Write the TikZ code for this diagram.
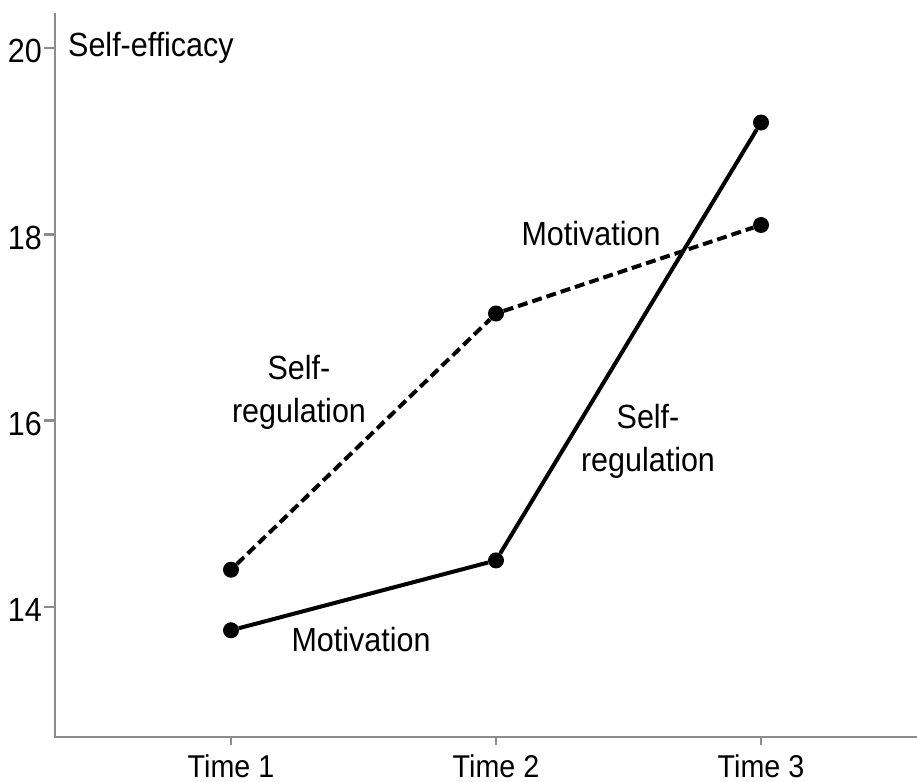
\documentclass[tikz,border=0pt]{standalone}
\usepackage{fontspec}
\setmainfont{Liberation Sans}
\newfontfamily\plotfont[FakeStretch=0.91]{Liberation Sans}

\begin{document}
\begin{tikzpicture}[
  x=265pt, y=93.17pt,
  axis/.style={draw=black!45, line width=2.5pt},
  dot/.style={circle, fill=black, inner sep=0pt, minimum size=16pt},
  solidline/.style={line width=4pt},
  dashline/.style={line width=4pt, dash pattern=on 10pt off 5pt},
  lbl/.style={font=\plotfont\fontsize{33.5}{43}\selectfont, align=center, inner sep=0pt},
  ticklbl/.style={font=\plotfont\fontsize{33.5}{36}\selectfont, inner sep=0pt},
  timelbl/.style={font=\plotfont\fontsize{31.5}{34}\selectfont, inner sep=0pt}
]
\useasboundingbox (0.1283,12.1219) rectangle (3.5887,20.5152);

% axes
\coordinate (o) at (0.3358,12.6049);
\coordinate (ytop) at (0.3358,20.3757);
\coordinate (xend) at (3.5887,12.6049);
\draw[axis] (ytop) -- (o) -- (xend);
\foreach \v in {14,16,18,20} {
  \draw[axis] (0.2943,\v) -- (0.3358,\v);
  \node[ticklbl, anchor=base east] (y\v) at (0.2868,{\v-0.161}) {\v};
}
\foreach \t in {1,2,3} {
  \draw[axis] (\t,12.6049) -- (\t,12.5190);
  \node[timelbl, anchor=base] (time\t) at (\t,12.1649) {Time \t};
}

% data points
\node[dot] (s1) at (1,13.75) {};
\node[dot] (s2) at (2,14.5) {};
\node[dot] (s3) at (3,19.2) {};
\node[dot] (d1) at (1,14.4) {};
\node[dot] (d2) at (2,17.15) {};
\node[dot] (d3) at (3,18.1) {};

\draw[solidline] (s1) -- (s2) -- (s3);
\draw[dashline] (d1) -- (d2) -- (d3);

% labels
\node[lbl, anchor=base west] (title) at (0.3849,19.9034) {Self-efficacy};
\node[lbl, anchor=base] (motivtop) at (2.3585,17.8748) {Motivation};
\node[lbl, anchor=base] (motivbot) at (1.4906,13.5172) {Motivation};
\node[lbl] (regleft) at (1.2566,16.3014) {Self-\\regulation};
\node[lbl] (regright) at (2.5736,15.7755) {Self-\\regulation};
\end{tikzpicture}
\end{document}
